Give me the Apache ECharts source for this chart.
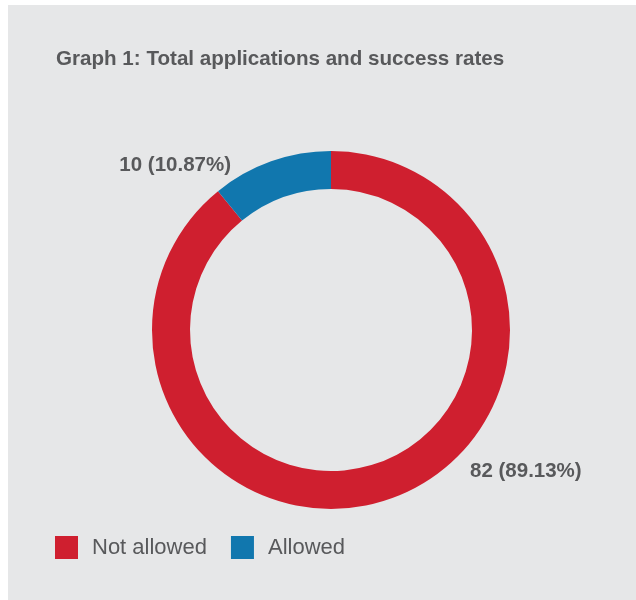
<!DOCTYPE html>
<html>
<head>
<meta charset="utf-8">
<script src="https://cdn.jsdelivr.net/npm/echarts@6/dist/echarts.min.js"></script>
<style>
html,body{margin:0;padding:0;background:#ffffff;}
#chart{position:absolute;left:0;top:0;width:636px;height:600px;}
</style>
</head>
<body>
<div id="chart"></div>
<script>
const titleText = 'Graph 1: Total applications and success rates';
const categories = ['Not allowed', 'Allowed'];
const values = [82, 10];
const percents = ['89.13%', '10.87%'];
const colors = ['#cf1f2f', '#1177ae'];

const chart = echarts.init(document.getElementById('chart'));
const labelPos = [
  { x: 470, y: 471, align: 'left' },
  { x: 231, y: 165, align: 'right' }
];
chart.setOption({
  animation: false,
  graphic: [{
    type: 'rect', silent: true, z: -10,
    shape: { x: 8, y: 5, width: 628, height: 595 },
    style: { fill: '#e6e7e8' }
  }],
  title: {
    text: titleText,
    left: 56, top: 59, padding: 0,
    textVerticalAlign: 'middle',
    textStyle: { fontFamily: 'Liberation Sans', fontSize: 20.6, fontWeight: 'bold', color: '#58595b' }
  },
  legend: {
    left: 55, top: 536, padding: 0,
    itemWidth: 23, itemHeight: 23, itemGap: 24,
    icon: 'rect',
    data: categories,
    textStyle: { fontFamily: 'Liberation Sans', fontSize: 22, color: '#58595b', padding: [0, 0, 0, 9] }
  },
  series: [{
    type: 'pie',
    center: [331, 330],
    radius: [141, 179],
    startAngle: 90,
    clockwise: true,
    color: colors,
    label: {
      show: true,
      position: 'outside',
      fontFamily: 'Liberation Sans', fontSize: 20.5, fontWeight: 'bold', color: '#58595b',
      formatter: p => p.value + ' (' + percents[p.dataIndex] + ')'
    },
    labelLine: { show: false },
    labelLayout: p => ({ x: labelPos[p.dataIndex].x, y: labelPos[p.dataIndex].y, align: labelPos[p.dataIndex].align, verticalAlign: 'middle' }),
    emphasis: { disabled: true },
    data: categories.map((c, i) => ({ name: c, value: values[i] }))
  }]
});
</script>
</body>
</html>
